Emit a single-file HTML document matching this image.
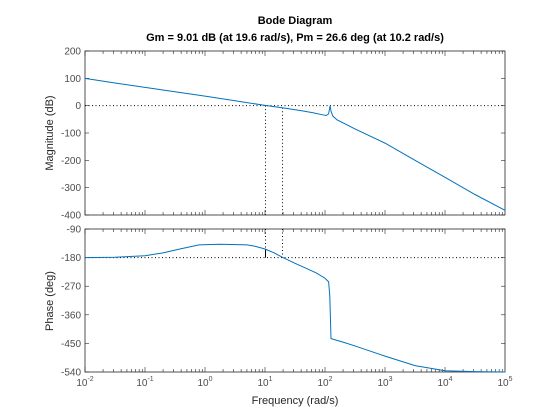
<!DOCTYPE html>
<html><head><meta charset="utf-8"><style>
body{margin:0;background:#fff;}
svg{display:block;font-family:"Liberation Sans",Arial,sans-serif;}
</style></head><body>
<svg id="c" width="560" height="420">
<text x="295" y="24" text-anchor="middle" font-size="11" font-weight="bold" fill="#000">Bode Diagram</text>
<text x="295" y="41" text-anchor="middle" font-size="11" font-weight="bold" fill="#000">Gm = 9.01 dB (at 19.6 rad/s),  Pm = 26.6 deg (at 10.2 rad/s)</text>
<text x="295" y="404" text-anchor="middle" font-size="11" fill="#262626">Frequency  (rad/s)</text>
<text transform="translate(53,133) rotate(-90)" text-anchor="middle" font-size="11" fill="#262626">Magnitude (dB)</text>
<text transform="translate(53,301) rotate(-90)" text-anchor="middle" font-size="11" fill="#262626">Phase (deg)</text>
</svg>
<script>
const magFreqLog=[-2,-1.5,-1,-0.5,0,0.5,1,1.3,1.6,1.8,1.95,2.02,2.06,2.085,2.1,2.13,2.2,2.5,3,3.5,4,4.5,5];
const magDb=[100,83,67,51,35,18,1,-8,-18,-26,-33,-36,-30,0,-20,-38,-52,-85,-137,-200,-262,-325,-383];
const phFreqLog=[-2,-1.5,-1,-0.7,-0.4,-0.1,0.25,0.7,0.85,1,1.15,1.3,1.5,1.7,1.85,2,2.06,2.08,2.1,2.3,2.5,3,3.5,4,4.5,5];
const phDeg=[-180,-179,-174,-165,-152,-140,-138,-140,-145,-153,-165,-180,-198,-215,-228,-245,-256,-300,-435,-446,-458,-490,-520,-536,-539,-540];
const magTicks=[200,100,0,-100,-200,-300,-400];
const phTicks=[-90,-180,-270,-360,-450,-540];
const xTickExp=[-2,-1,0,1,2,3,4,5];
const pm={w:10.2}, gm={w:19.6};
const NS="http://www.w3.org/2000/svg", svg=document.getElementById('c');
const X0=85,X1=505;
const xs=l=>X0+(l+2)/7*(X1-X0);
const ym=v=>51+(200-v)/600*(215-51);
const yp=v=>229+(-90-v)/450*(372-229);
function mk(t,a,p){const e=document.createElementNS(NS,t);for(const k in a)e.setAttribute(k,a[k]);(p||svg).appendChild(e);return e;}
function axes(y0,y1,ticks,yf,name,showX){
  const r=mk('rect',{x:X0,y:y0,width:X1-X0,height:y1-y0,fill:'#fff',stroke:'#262626','stroke-width':0.8});
  
  
  for(let d=-2;d<5;d++)for(let k=1;k<10;k++){const x=xs(d+Math.log10(k));const L=k==1?5:3;
    mk('line',{x1:x,x2:x,y1:y0,y2:y0+L,stroke:'#262626','stroke-width':0.6});
    mk('line',{x1:x,x2:x,y1:y1,y2:y1-L,stroke:'#262626','stroke-width':0.6});}
  ticks.forEach(v=>{const y=yf(v);
    mk('line',{x1:X0,x2:X0+4,y1:y,y2:y,stroke:'#262626','stroke-width':0.6});
    mk('line',{x1:X1,x2:X1-4,y1:y,y2:y,stroke:'#262626','stroke-width':0.6});
    const t=mk('text',{x:X0-4,y:y+3.5,'text-anchor':'end','font-size':10,fill:'#4d4d4d'});t.textContent=v;
    
    });
  if(showX)xTickExp.forEach(e=>{const t=mk('text',{x:xs(e),y:y1+14,'text-anchor':'middle','font-size':10,fill:'#4d4d4d'});
    t.textContent='10';const s=mk('tspan',{dy:-5,'font-size':7},t);s.textContent=e;
    
    });
}
axes(51,215,magTicks,ym,'magnitude',false);
axes(229,372,phTicks,yp,'phase',true);
function interp(xa,ya,l){for(let i=0;i<xa.length-1;i++)if(l<=xa[i+1])return ya[i]+(ya[i+1]-ya[i])*(l-xa[i])/(xa[i+1]-xa[i]);return ya[ya.length-1];}
const dot={stroke:'#000','stroke-width':1,'stroke-dasharray':'1,2.5'};
let e=mk('line',Object.assign({x1:X0,x2:X1,y1:ym(0),y2:ym(0)},dot));
e=mk('line',Object.assign({x1:X0,x2:X1,y1:yp(-180),y2:yp(-180)},dot));
const lp=Math.log10(pm.w), lg=Math.log10(gm.w);
e=mk('line',Object.assign({x1:xs(lp),x2:xs(lp),y1:ym(0),y2:215},dot));
e=mk('line',Object.assign({x1:xs(lp),x2:xs(lp),y1:229,y2:yp(-180)},dot));
e=mk('line',{x1:xs(lp),x2:xs(lp),y1:yp(-180),y2:yp(interp(phFreqLog,phDeg,lp)),stroke:'#000','stroke-width':1});
e=mk('line',Object.assign({x1:xs(lg),x2:xs(lg),y1:ym(interp(magFreqLog,magDb,lg)),y2:215},dot));
e=mk('line',Object.assign({x1:xs(lg),x2:xs(lg),y1:229,y2:yp(-180)},dot));
e=mk('polyline',{points:magFreqLog.map((l,i)=>xs(l)+','+ym(magDb[i])).join(' '),fill:'none',stroke:'#0072bd','stroke-width':1});

e=mk('polyline',{points:phFreqLog.map((l,i)=>xs(l)+','+yp(phDeg[i])).join(' '),fill:'none',stroke:'#0072bd','stroke-width':1});

</script>
</body></html>
